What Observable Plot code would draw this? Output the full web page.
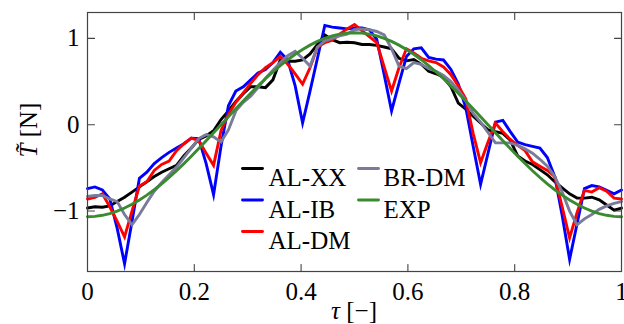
<!DOCTYPE html>
<html><head><meta charset="utf-8">
<script src="https://cdn.jsdelivr.net/npm/d3@7"></script>
<script src="https://cdn.jsdelivr.net/npm/@observablehq/plot@0.6"></script>
<style>
body{margin:0;background:#fff;}
#chart{width:624px;height:324px;}
#chart svg, #chart svg text{font-family:"Liberation Serif","DejaVu Serif",serif !important;}
</style>
</head><body><div id="chart"></div>
<script>
// normalized time τ (sample grid)
const tau = [
 0, .0139, .0278, .0417, .0556, .0694, .0833, .0972, .1111, .125, .1389, .1528,
 .1667, .1806, .1944, .2083, .2222, .2361, .25, .2639, .2778, .2917, .3056, .3194,
 .3333, .3472, .3611, .375, .3889, .4028, .4167, .4306, .4444, .4583, .4722, .4861,
 .5, .5139, .5278, .5417, .5556, .5694, .5833, .5972, .6111, .625, .6389, .6528,
 .6667, .6806, .6944, .7083, .7222, .7361, .75, .7639, .7778, .7917, .8056, .8194,
 .8333, .8472, .8611, .875, .8889, .9028, .9167, .9306, .9444, .9583, .9722, .9861,
 1];

const AL_XX = [
 -0.965, -0.95, -0.955, -0.94, -0.89, -0.84, -0.78, -0.72, -0.66, -0.60, -0.55, -0.51,
 -0.47, -0.36, -0.27, -0.17, -0.13, -0.07, 0.06, 0.16, 0.27, 0.36, 0.44, 0.44,
 0.43, 0.52, 0.75, 0.735, 0.735, 0.75, 0.82, 0.93, 1.04, 0.985, 0.95, 0.955,
 0.95, 0.93, 0.93, 0.92, 0.90, 0.88, 0.77, 0.74, 0.755, 0.70, 0.62, 0.59,
 0.55, 0.44, 0.25, 0.18, 0.10, 0.02, -0.06, -0.08, -0.10, -0.18, -0.36, -0.42,
 -0.46, -0.52, -0.58, -0.66, -0.73, -0.80, -0.85, -0.85, -0.84, -0.87, -0.93, -0.99,
 -0.965];

const AL_IB = [
 -0.74, -0.72, -0.755, -0.86, -1.20, -1.61, -1.12, -0.62, -0.55, -0.45, -0.38, -0.32,
 -0.27, -0.22, -0.155, -0.16, -0.45, -0.81, -0.25, 0.22, 0.39, 0.44, 0.52, 0.60,
 0.64, 0.72, 0.84, 0.75, 0.45, 0.02, 0.39, 0.77, 1.15, 1.13, 1.12, 1.11,
 1.12, 1.12, 1.10, 0.99, 0.58, 0.16, 0.48, 0.79, 0.88, 0.89, 0.78, 0.76,
 0.75, 0.64, 0.47, 0.20, -0.25, -0.69, -0.33, 0.03, 0.05, -0.08, -0.20, -0.23,
 -0.25, -0.27, -0.38, -0.60, -1.05, -1.56, -1.15, -0.74, -0.705, -0.72, -0.76, -0.80,
 -0.755];

const AL_DM = [
 -0.86, -0.84, -0.80, -0.95, -1.12, -1.30, -1.00, -0.71, -0.66, -0.53, -0.46, -0.42,
 -0.30, -0.22, -0.155, -0.185, -0.33, -0.47, -0.07, 0.12, 0.26, 0.37, 0.48, 0.58,
 0.66, 0.72, 0.79, 0.70, 0.59, 0.47, 0.66, 0.90, 0.95, 0.98, 1.05, 1.11,
 1.16, 1.09, 1.02, 0.95, 0.67, 0.39, 0.66, 0.88, 0.83, 0.77, 0.74, 0.72,
 0.67, 0.58, 0.45, 0.30, -0.10, -0.44, -0.20, 0.02, -0.08, -0.17, -0.24, -0.30,
 -0.43, -0.48, -0.53, -0.60, -0.95, -1.31, -1.02, -0.76, -0.78, -0.73, -0.77, -0.85,
 -0.86];

const BR_DM = [
 -0.83, -0.82, -0.82, -0.86, -0.89, -1.04, -1.16, -1.04, -0.90, -0.77, -0.67, -0.58,
 -0.49, -0.38, -0.27, -0.16, -0.115, -0.14, -0.20, -0.06, 0.16, 0.26, 0.33, 0.43,
 0.54, 0.63, 0.72, 0.80, 0.85, 0.77, 0.68, 0.90, 0.97, 1.00, 1.03, 1.05,
 1.10, 1.11, 1.10, 1.08, 1.04, 0.88, 0.68, 0.65, 0.72, 0.70, 0.65, 0.62,
 0.57, 0.50, 0.40, 0.28, 0.13, 0.03, -0.09, -0.21, -0.21, -0.21, -0.24, -0.28,
 -0.33, -0.40, -0.48, -0.60, -0.78, -1.00, -1.16, -1.09, -1.04, -0.98, -0.94, -0.91,
 -0.89];

const EXP = [
 -1.065, -1.061, -1.049, -1.029, -1.001, -0.965, -0.922, -0.872, -0.816, -0.753, -0.685, -0.611,
 -0.533, -0.450, -0.364, -0.276, -0.185, -0.093, 0.000, 0.093, 0.185, 0.276, 0.364, 0.450,
 0.533, 0.611, 0.685, 0.753, 0.816, 0.872, 0.922, 0.965, 1.001, 1.029, 1.049, 1.061,
 1.065, 1.061, 1.049, 1.029, 1.001, 0.965, 0.922, 0.872, 0.816, 0.753, 0.685, 0.611,
 0.533, 0.450, 0.364, 0.276, 0.185, 0.093, 0.000, -0.093, -0.185, -0.276, -0.364, -0.450,
 -0.533, -0.611, -0.685, -0.753, -0.816, -0.872, -0.922, -0.965, -1.001, -1.029, -1.049, -1.061,
 -1.065];

const seriesNames = ["AL-XX", "AL-IB", "AL-DM", "BR-DM", "EXP"];
const seriesColors = ["#000000", "#0000ff", "#ff0000", "#7a7a9a", "#3a8a30"];
const xTicks = [0, 0.2, 0.4, 0.6, 0.8, 1];
const xTickLabels = ["0", "0.2", "0.4", "0.6", "0.8", "1"];
const yTicks = [-1, 0, 1];
const yTickLabels = ["\u22121", "0", "1"];

const seriesValues = [AL_XX, AL_IB, AL_DM, BR_DM, EXP];
const rows = seriesNames.flatMap((name, i) =>
  tau.map((t, k) => ({name, tau: t, T: seriesValues[i][k]})));

const frameColor = "#444";
const lineShape = {draw(ctx, l) { ctx.moveTo(0, 0); ctx.lineTo(0, -l); }};

// legend layout (pixel offsets from the frame's top-left corner)
const legendCols = [{sw: 155, tx: 181}, {sw: 271, tx: 296}];
const legendRows = [156, 187.5, 219];
const legendMarks = seriesNames.flatMap((name, i) => {
  const c = legendCols[i < 3 ? 0 : 1];
  const dy = legendRows[i < 3 ? i : i - 3];
  return [
    Plot.vector([name], {frameAnchor: "top-left", dx: c.sw, dy, length: 20, rotate: 90,
      anchor: "start", shape: lineShape, stroke: seriesColors[i], strokeWidth: 2.9}),
    Plot.text([name], {frameAnchor: "top-left", dx: c.tx, dy, text: d => d,
      textAnchor: "start", fill: "#000", fontSize: 25})
  ];
});

const chart = Plot.plot({
  width: 624, height: 324,
  marginLeft: 87, marginRight: 3, marginTop: 12, marginBottom: 53,
  style: {fontSize: "25px", background: "#fff", color: "#000"},
  x: {domain: [0, 1]},
  y: {domain: [-1.7, 1.3]},
  color: {domain: seriesNames, range: seriesColors},
  marks: [
    Plot.line(rows, {x: "tau", y: "T", z: "name", stroke: "name", strokeWidth: 2.9,
      strokeLinejoin: "miter", strokeMiterlimit: 10}),
    Plot.frame({stroke: frameColor, strokeWidth: 1.2}),
    Plot.vector(xTicks.slice(1, -1), {x: d => d, frameAnchor: "bottom", length: 7, rotate: 0,
      anchor: "start", shape: lineShape, stroke: frameColor, strokeWidth: 1.1}),
    Plot.vector(xTicks.slice(1, -1), {x: d => d, frameAnchor: "top", length: 7, rotate: 180,
      anchor: "start", shape: lineShape, stroke: frameColor, strokeWidth: 1.1}),
    Plot.vector(yTicks, {y: d => d, frameAnchor: "left", length: 7, rotate: 90,
      anchor: "start", shape: lineShape, stroke: frameColor, strokeWidth: 1.1}),
    Plot.vector(yTicks, {y: d => d, frameAnchor: "right", length: 7, rotate: -90,
      anchor: "start", shape: lineShape, stroke: frameColor, strokeWidth: 1.1}),
    Plot.axisX({ticks: xTicks, tickFormat: d => xTickLabels[xTicks.indexOf(d)],
      tickSize: 0, tickPadding: 11, label: null, fontSize: 25}),
    Plot.axisY({ticks: yTicks, tickFormat: d => yTickLabels[yTicks.indexOf(d)],
      tickSize: 0, tickPadding: 8, label: null, fontSize: 25}),
    ...legendMarks
  ]
});

document.getElementById("chart").appendChild(chart);

// axis titles with mixed italic/upright glyphs
const svg = d3.select(chart);
const xt = svg.append("text")
  .attr("x", 354).attr("y", 319)
  .attr("text-anchor", "middle")
  .attr("font-size", 25).attr("fill", "#000");
xt.append("tspan").attr("font-style", "italic").text("\u03C4");
xt.append("tspan").text(" [\u2212]");

const yt = svg.append("text")
  .attr("transform", "translate(37,130) rotate(-90)")
  .attr("text-anchor", "middle")
  .attr("font-size", 25).attr("fill", "#000");
yt.append("tspan").attr("font-style", "italic").text("T\u0303");
yt.append("tspan").text(" [N]");
</script>
</body></html>
